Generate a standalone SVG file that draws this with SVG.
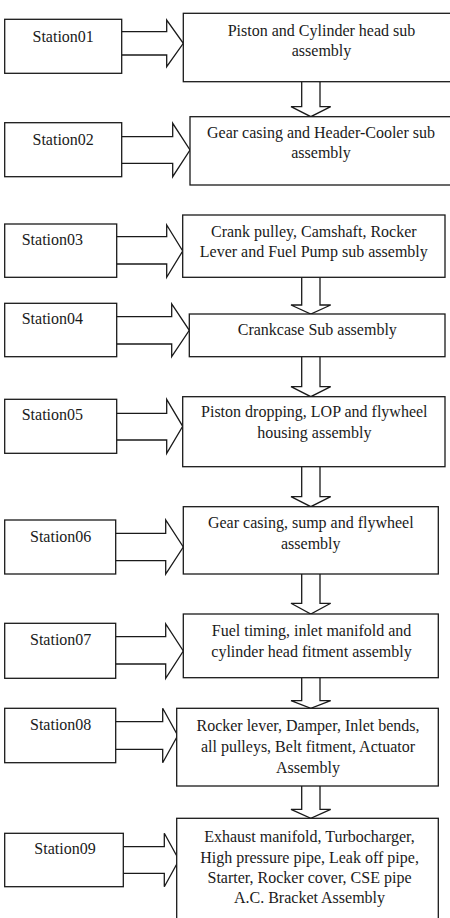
<svg xmlns="http://www.w3.org/2000/svg" width="450" height="918" viewBox="0 0 450 918">
<defs>
<style>
.box{fill:#fff;stroke:#1a1a1a;stroke-width:1.3}
.arr{fill:#fff;stroke:#1a1a1a;stroke-width:1.3;stroke-linejoin:miter}
.lbl{font-family:'Liberation Serif',serif;font-size:16px;fill:#1a1a1a}
.c{text-anchor:middle}
</style>
</defs>
<rect width="450" height="918" fill="#fff"/>
<g id="connectors">
<polyline class="arr" points="121.7,31.7 166.7,31.7 166.7,20 183.3,43.3 166.7,66.7 166.7,55 121.7,55"/>
<polyline class="arr" points="121.7,136.7 172.7,136.7 172.7,123.3 190,150 172.7,176.7 172.7,163.3 121.7,163.3"/>
<polyline class="arr" points="116.7,236.7 166.7,236.7 166.7,225 182.7,251 166.7,277.3 166.7,264 116.7,264"/>
<polyline class="arr" points="116.7,316.7 171.7,316.7 171.7,304 189.3,330.3 171.7,356.7 171.7,344 116.7,344"/>
<polyline class="arr" points="116.7,413.3 166.7,413.3 166.7,399.3 182.7,426.3 166.7,453.3 166.7,440 116.7,440"/>
<polyline class="arr" points="115.7,533.3 165.7,533.3 165.7,520 183.3,547 165.7,574 165.7,560.7 115.7,560.7"/>
<polyline class="arr" points="115.7,636.7 165.7,636.7 165.7,624 183.3,651 165.7,678.3 165.7,664 115.7,664"/>
<polyline class="arr" points="115.7,721.7 162.7,721.7 162.7,708.3 177.7,735.5 162.7,762.7 162.7,749.3 115.7,749.3"/>
<polyline class="arr" points="123.3,846.7 164.3,846.7 164.3,833.3 179,860 164.3,886.7 164.3,873.3 123.3,873.3"/>
<polyline class="arr" points="301.7,81.7 301.7,106.7 291,106.7 310.8,116.7 330.7,106.7 320,106.7 320,81.7"/>
<polyline class="arr" points="301.7,277.3 301.7,305 291,305 310.8,314 330.7,305 320,305 320,277.3"/>
<polyline class="arr" points="301.7,356.7 301.7,386.7 291,386.7 310.8,396.7 330.7,386.7 320,386.7 320,356.7"/>
<polyline class="arr" points="301.7,466.7 301.7,496.7 291,496.7 310.8,506.7 330.7,496.7 320,496.7 320,466.7"/>
<polyline class="arr" points="301.7,574 301.7,603.3 291,603.3 310.8,614 330.7,603.3 320,603.3 320,574"/>
<polyline class="arr" points="301.7,677.7 301.7,700.7 291,700.7 310.8,708.3 330.7,700.7 320,700.7 320,677.7"/>
<polyline class="arr" points="301.7,786 301.7,809.3 291,809.3 310.8,818.3 330.7,809.3 320,809.3 320,786"/>
</g>
<g id="station01"><rect class="box" x="4.7" y="19.3" width="117" height="54"/><text class="lbl c" x="63.2" y="42">Station01</text></g>
<g id="station02"><rect class="box" x="4.7" y="122.7" width="117" height="54"/><text class="lbl c" x="63.2" y="145">Station02</text></g>
<g id="station03"><rect class="box" x="4.7" y="224" width="112" height="53.3"/><text class="lbl" x="21.7" y="245">Station03</text></g>
<g id="station04"><rect class="box" x="4.7" y="303.3" width="112" height="53.4"/><text class="lbl" x="21.7" y="324">Station04</text></g>
<g id="station05"><rect class="box" x="4.7" y="399.3" width="112" height="54"/><text class="lbl" x="21.7" y="420">Station05</text></g>
<g id="station06"><rect class="box" x="4.7" y="520" width="111" height="54"/><text class="lbl c" x="60.7" y="541.7">Station06</text></g>
<g id="station07"><rect class="box" x="4.7" y="623.3" width="111" height="55"/><text class="lbl c" x="60.7" y="645">Station07</text></g>
<g id="station08"><rect class="box" x="4.7" y="708.3" width="111" height="54.4"/><text class="lbl c" x="60.7" y="730">Station08</text></g>
<g id="station09"><rect class="box" x="4.7" y="833.3" width="118.6" height="53.4"/><text class="lbl c" x="65" y="854">Station09</text></g>
<g id="process01"><rect class="box" x="183.3" y="13.3" width="277" height="68.4"/><text class="lbl c" x="321.5" y="36">Piston and Cylinder head sub</text><text class="lbl c" x="321.5" y="56">assembly</text></g>
<g id="process02"><rect class="box" x="190" y="116.7" width="270" height="68.3"/><text class="lbl c" x="321" y="138">Gear casing and Header-Cooler sub</text><text class="lbl c" x="321" y="158">assembly</text></g>
<g id="process03"><rect class="box" x="182.7" y="215" width="262.3" height="62.3"/><text class="lbl c" x="313.8" y="236.7">Crank pulley, Camshaft, Rocker</text><text class="lbl c" x="313.8" y="257.3">Lever and Fuel  Pump sub assembly</text></g>
<g id="process04"><rect class="box" x="189.3" y="314" width="255.7" height="42.7"/><text class="lbl c" x="317.3" y="335">Crankcase Sub assembly</text></g>
<g id="process05"><rect class="box" x="182.7" y="396.7" width="262.3" height="70"/><text class="lbl c" x="314.3" y="416.7">Piston dropping, LOP and flywheel</text><text class="lbl c" x="314.3" y="438.3">housing assembly</text></g>
<g id="process06"><rect class="box" x="183.3" y="506.7" width="255" height="67.3"/><text class="lbl c" x="310.8" y="528.3">Gear casing, sump and flywheel</text><text class="lbl c" x="310.8" y="549.3">assembly</text></g>
<g id="process07"><rect class="box" x="183.3" y="614" width="255" height="63.7"/><text class="lbl c" x="311.5" y="636">Fuel timing, inlet manifold and</text><text class="lbl c" x="311.5" y="656.7">cylinder head fitment assembly</text></g>
<g id="process08"><rect class="box" x="176.7" y="708.3" width="261.6" height="77.7"/><text class="lbl c" x="308" y="730.7">Rocker lever, Damper, Inlet bends,</text><text class="lbl c" x="308" y="751.7">all pulleys, Belt fitment, Actuator</text><text class="lbl c" x="308" y="772.7">Assembly</text></g>
<g id="process09"><rect class="box" x="176.7" y="818.3" width="261.6" height="110"/><text class="lbl c" x="309.5" y="841.7">Exhaust manifold, Turbocharger,</text><text class="lbl c" x="309.5" y="862.7">High pressure pipe, Leak off pipe,</text><text class="lbl c" x="309.5" y="883.3">Starter, Rocker cover, CSE pipe</text><text class="lbl c" x="309.5" y="903.3">A.C. Bracket Assembly</text></g>
</svg>
